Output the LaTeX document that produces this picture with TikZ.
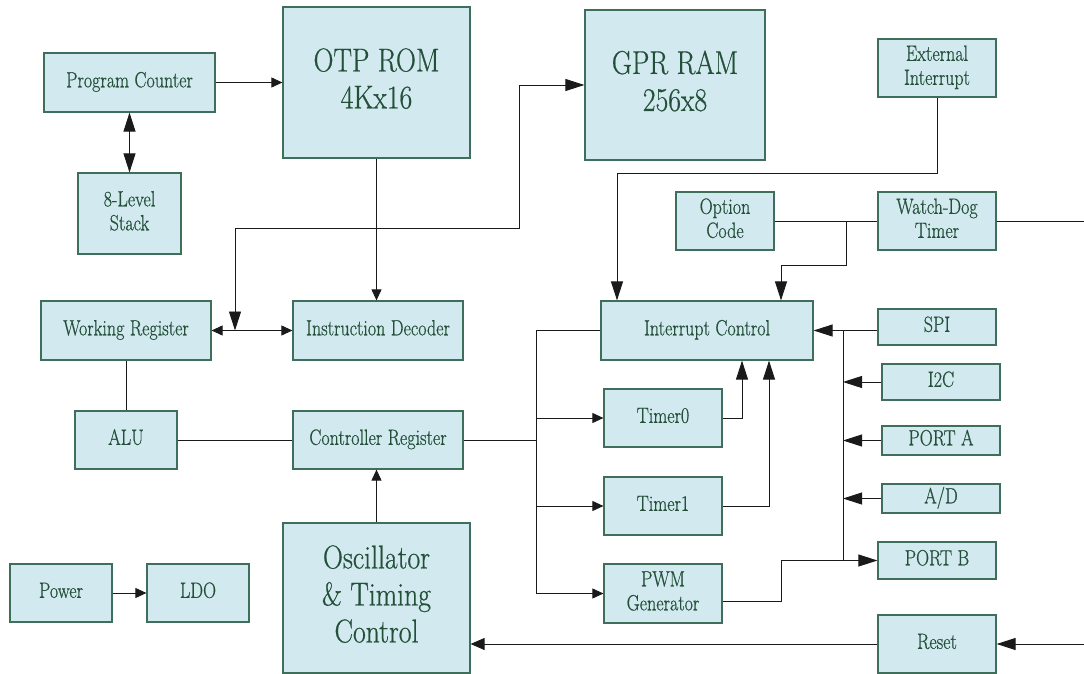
\documentclass[tikz,border=0pt]{standalone}
\usepackage{fontspec}
\usepackage{graphicx}
\setmainfont{Latin Modern Roman}[FakeBold=0.7]
\usetikzlibrary{arrows.meta}
\definecolor{boxfill}{HTML}{D2EAEF}
\definecolor{boxline}{HTML}{3F6E5A}
\definecolor{boxtext}{HTML}{24503A}
\definecolor{wire}{HTML}{1A1A1A}
% condensed, centred block label
\newcommand{\lblscale}{0.82}
\newcommand{\blabel}[1]{\raisebox{-0.2em}{\scalebox{\lblscale}[1]{\begin{tabular}{@{}c@{}}#1\end{tabular}}}}
\tikzset{
  blk/.style={draw=boxline, line width=1.2pt, fill=boxfill, text=boxtext,
    align=center, inner sep=0pt, font=\fontsize{22}{24}\selectfont\renewcommand{\lblscale}{0.82}},
  bigblk/.style={blk, font=\fontsize{33}{37}\selectfont\renewcommand{\lblscale}{0.84}},
  wired/.style={draw=wire, line width=0.9pt},
  sarr/.style={wired, -{Triangle[length=11pt,width=10pt]}},
  barr/.style={wired, -{Triangle[length=19pt,width=12pt]}},
  bboth/.style={wired, {Triangle[length=19pt,width=12pt]}-{Triangle[length=19pt,width=12pt]}},
  sboth/.style={wired, {Triangle[length=11pt,width=10pt]}-{Triangle[length=11pt,width=10pt]}},
}
\begin{document}
\begin{tikzpicture}[x=1pt, y=-1pt]
\useasboundingbox (0,0) rectangle (1084,674);

% ---- blocks ----
\node[blk, minimum width=171pt, minimum height=59pt] (pc) at (129.5,82.5) {\blabel{Program Counter}};
\node[blk, minimum width=103pt, minimum height=81pt] (stack) at (129.5,213.5) {\blabel{8-Level\\Stack}};
\node[bigblk, minimum width=187pt, minimum height=151pt] (rom) at (376.5,82.5) {\blabel{OTP ROM\\4Kx16}};
\node[bigblk, minimum width=180pt, minimum height=150pt] (ram) at (675,85) {\blabel{GPR RAM\\256x8}};
\node[blk, minimum width=118pt, minimum height=58pt] (ext) at (937,68) {\blabel{External\\Interrupt}};
\node[blk, minimum width=98pt, minimum height=58pt] (opt) at (725,221) {\blabel{Option\\Code}};
\node[blk, minimum width=118pt, minimum height=58pt] (wdt) at (937,221) {\blabel{Watch-Dog\\Timer}};
\node[blk, minimum width=170pt, minimum height=59pt] (wr) at (126,330.5) {\blabel{Working Register}};
\node[blk, minimum width=170pt, minimum height=59pt] (id) at (378,330.5) {\blabel{Instruction Decoder}};
\node[blk, minimum width=212pt, minimum height=59pt] (ic) at (707,330.5) {\blabel{Interrupt Control}};
\node[blk, minimum width=118pt, minimum height=36pt] (spi) at (937,327) {\blabel{SPI}};
\node[blk, minimum width=118pt, minimum height=36pt] (i2c) at (941,382) {\blabel{I2C}};
\node[blk, minimum width=118pt, minimum height=29pt] (porta) at (941,440.5) {\blabel{PORT A}};
\node[blk, minimum width=118pt, minimum height=29pt] (ad) at (941,498.5) {\blabel{A/D}};
\node[blk, minimum width=118pt, minimum height=37pt] (portb) at (937,560.5) {\blabel{PORT B}};
\node[blk, minimum width=118pt, minimum height=58pt] (reset) at (937,644) {\blabel{Reset}};
\node[blk, minimum width=118pt, minimum height=58pt] (t0) at (663,418) {\blabel{Timer0}};
\node[blk, minimum width=118pt, minimum height=58pt] (t1) at (663,506) {\blabel{Timer1}};
\node[blk, minimum width=118pt, minimum height=59pt] (pwm) at (663,593.5) {\blabel{PWM\\Generator}};
\node[blk, minimum width=102pt, minimum height=58pt] (alu) at (126,440) {\blabel{ALU}};
\node[blk, minimum width=170pt, minimum height=58pt] (cr) at (378,440) {\blabel{Controller Register}};
\node[bigblk, minimum width=187pt, minimum height=150pt] (osc) at (376.5,598) {\blabel{Oscillator\\\&~Timing\\Control}};
\node[blk, minimum width=102pt, minimum height=58pt] (power) at (61,593) {\blabel{Power}};
\node[blk, minimum width=102pt, minimum height=58pt] (ldo) at (198,593) {\blabel{LDO}};

% ---- routing points ----
\coordinate (j1) at (235,330.5);
\coordinate (k1) at (519,228);
\coordinate (busx) at (536,0);
\coordinate (t0up) at (742,0);
\coordinate (t1up) at (769,0);
\coordinate (e1) at (617,173);
\coordinate (w1) at (846,221);
\coordinate (w2) at (781,265);
\coordinate (wout) at (1084,221);
\coordinate (rb) at (843,0);
\coordinate (pb1) at (781,0);
\coordinate (rin) at (1084,644);

% ---- program flow ----
\draw[sarr] (pc.east) -- (rom.west);
\draw[bboth] (pc.south) -- (stack.north);
\draw[sarr] (rom.south) -- (rom.south |- id.north);
\draw[sboth] (wr.east) -- (id.west);
\draw[bboth] (j1) |- (k1) |- (ram.west);
\draw[wired] (wr.south) -- (alu.north);
\draw[wired] (alu.east) -- (cr.west);
\draw[sarr] (osc.north) -- (osc.north |- cr.south);
\draw[sarr] (power.east) -- (ldo.west);

% ---- peripheral bus ----
\draw[wired] (cr.east) -- (busx |- cr.east);
\draw[sarr] (ic.west) -| (busx |- pwm.west) -- (pwm.west);
\draw[sarr] (busx |- t0.west) -- (t0.west);
\draw[sarr] (busx |- t1.west) -- (t1.west);
\draw[barr] (t0.east) -| (t0up |- ic.south);
\draw[barr] (t1.east) -| (t1up |- ic.south);

% ---- interrupt sources ----
\draw[barr] (ext.south) |- (e1) -- (e1 |- ic.north);
\draw[wired] (opt.east) -- (wdt.west);
\draw[barr] (w1) |- (w2) -- (w2 |- ic.north);
\draw[wired] (wdt.east) -- (wout);
\draw[barr] (spi.west |- ic.east) -- (ic.east);
\draw[wired] (rb |- ic.east) -- (rb |- portb.west);
\draw[barr] (i2c.west) -- (rb |- i2c.west);
\draw[barr] (porta.west) -- (rb |- porta.west);
\draw[barr] (ad.west) -- (rb |- ad.west);
\draw[barr] ([yshift=-7.5pt]pwm.east) -| (pb1 |- portb.west) -- (portb.west);

% ---- reset ----
\draw[wired, -{Triangle[length=14pt,width=12pt]}] (reset.west) -- (reset.west -| osc.east);
\draw[barr] (rin) -- (reset.east);
\end{tikzpicture}
\end{document}
